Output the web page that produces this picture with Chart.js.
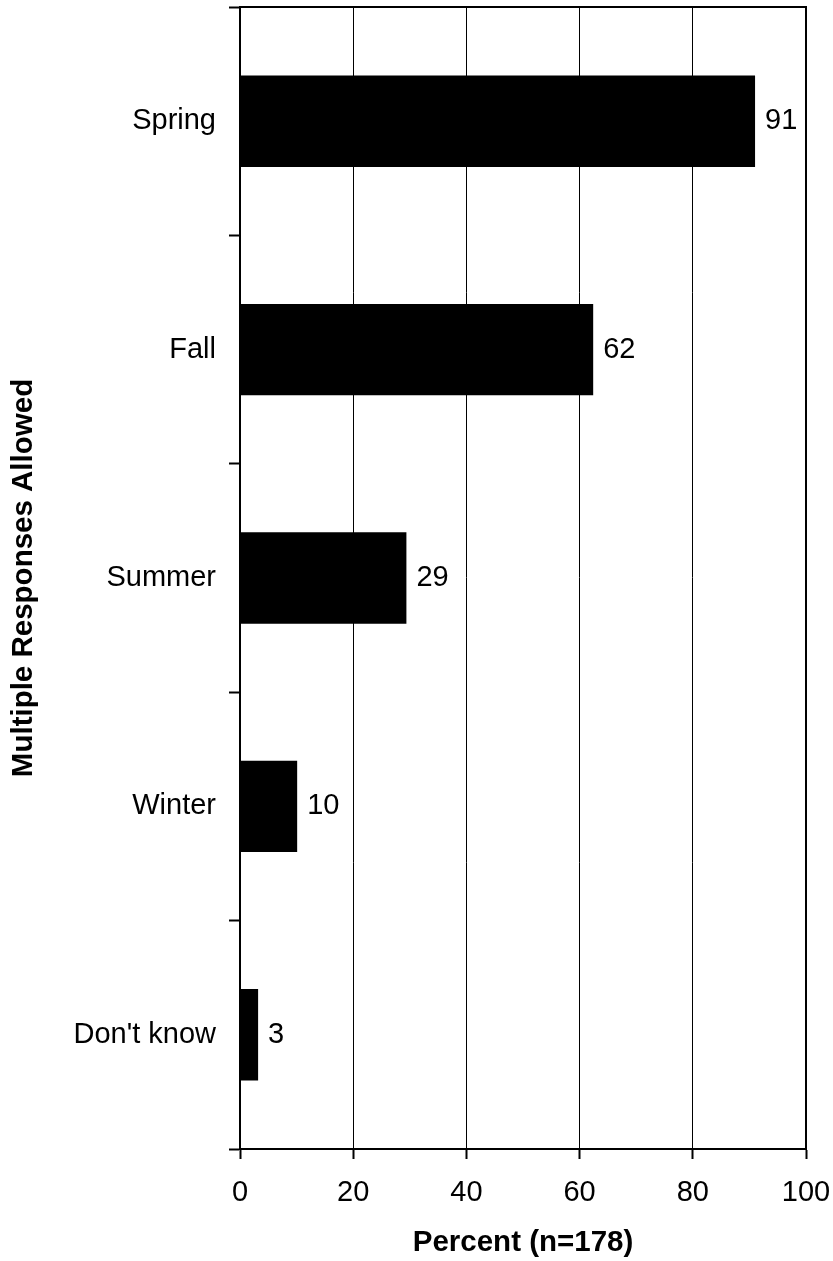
<!DOCTYPE html>
<html>
<head>
<meta charset="utf-8">
<script src="https://cdn.jsdelivr.net/npm/chart.js@4/dist/chart.umd.min.js"></script>
<style>
  html, body { margin: 0; padding: 0; background: #ffffff; }
  #wrap { width: 833px; height: 1261px; }
</style>
</head>
<body>
<div id="wrap"><canvas id="c" width="833" height="1261"></canvas></div>
<script>
const categories = ["Spring", "Fall", "Summer", "Winter", "Don't know"];
const percentValues = [91, 62.4, 29.4, 10.1, 3.2];
const valueLabels = ["91", "62", "29", "10", "3"];
const xTickValues = [0, 20, 40, 60, 80, 100];
const xTitle = "Percent (n=178)";
const yTitle = "Multiple Responses Allowed";

const FONT = "'Liberation Sans', Arial, sans-serif";

const valueLabelPlugin = {
  id: 'valueLabels',
  afterDatasetsDraw(chart) {
    const ctx = chart.ctx;
    const meta = chart.getDatasetMeta(0);
    ctx.save();
    ctx.fillStyle = '#000';
    ctx.font = "29px " + FONT;
    ctx.textAlign = 'left';
    ctx.textBaseline = 'middle';
    meta.data.forEach((bar, i) => {
      ctx.fillText(valueLabels[i], bar.x + 10, bar.y);
    });
    ctx.restore();
  }
};

const boxPlugin = {
  id: 'box',
  afterDraw(chart) {
    const {ctx, chartArea: a} = chart;
    ctx.save();
    ctx.strokeStyle = '#000';
    ctx.lineWidth = 2;
    ctx.beginPath();
    ctx.moveTo(a.left, a.top);
    ctx.lineTo(a.right, a.top);
    ctx.lineTo(a.right, a.bottom);
    ctx.stroke();
    ctx.restore();
  }
};

new Chart(document.getElementById('c'), {
  type: 'bar',
  data: {
    labels: categories,
    datasets: [{
      data: percentValues,
      backgroundColor: '#000000',
      borderWidth: 0,
      barPercentage: 0.4,
      categoryPercentage: 1.0
    }]
  },
  options: {
    indexAxis: 'y',
    responsive: false,
    animation: false,
    devicePixelRatio: 1,
    layout: { padding: { top: 7, right: 27, left: 0, bottom: 0 } },
    plugins: {
      legend: { display: false },
      tooltip: { enabled: false },
      title: { display: false }
    },
    scales: {
      x: {
        min: 0,
        max: 100,
        afterFit(scale) {
          scale.height = 112;
          scale.paddingLeft = 0; scale.paddingRight = 0;
          scale.paddingTop = 0; scale.paddingBottom = 0;
        },
        afterBuildTicks(scale) { scale.ticks = xTickValues.map(v => ({ value: v })); },
        ticks: {
          color: '#000',
          font: { family: FONT, size: 29 },
          padding: 17,
          maxRotation: 0
        },
        grid: {
          color: '#000',
          lineWidth: 1,
          tickWidth: 2,
          tickLength: 10,
          drawTicks: true
        },
        border: { display: true, color: '#000', width: 2 },
        title: {
          display: true,
          text: xTitle,
          color: '#000',
          font: { family: FONT, size: 29.5, weight: 'bold' },
          padding: { top: 0, bottom: 0 }
        }
      },
      y: {
        afterFit(scale) {
          scale.width = 240;
          scale.paddingLeft = 0; scale.paddingRight = 0;
          scale.paddingTop = 0; scale.paddingBottom = 0;
        },
        ticks: {
          color: '#000',
          font: { family: FONT, size: 29 },
          padding: 13
        },
        grid: {
          offset: true,
          drawOnChartArea: false,
          color: '#000',
          tickWidth: 2,
          tickLength: 11,
          drawTicks: true
        },
        border: { display: true, color: '#000', width: 2 },
        title: {
          display: true,
          text: yTitle,
          color: '#000',
          font: { family: FONT, size: 29.5, weight: 'bold' },
          padding: { top: 6, bottom: 0 }
        }
      }
    }
  },
  plugins: [valueLabelPlugin, boxPlugin]
});
</script>
</body>
</html>
